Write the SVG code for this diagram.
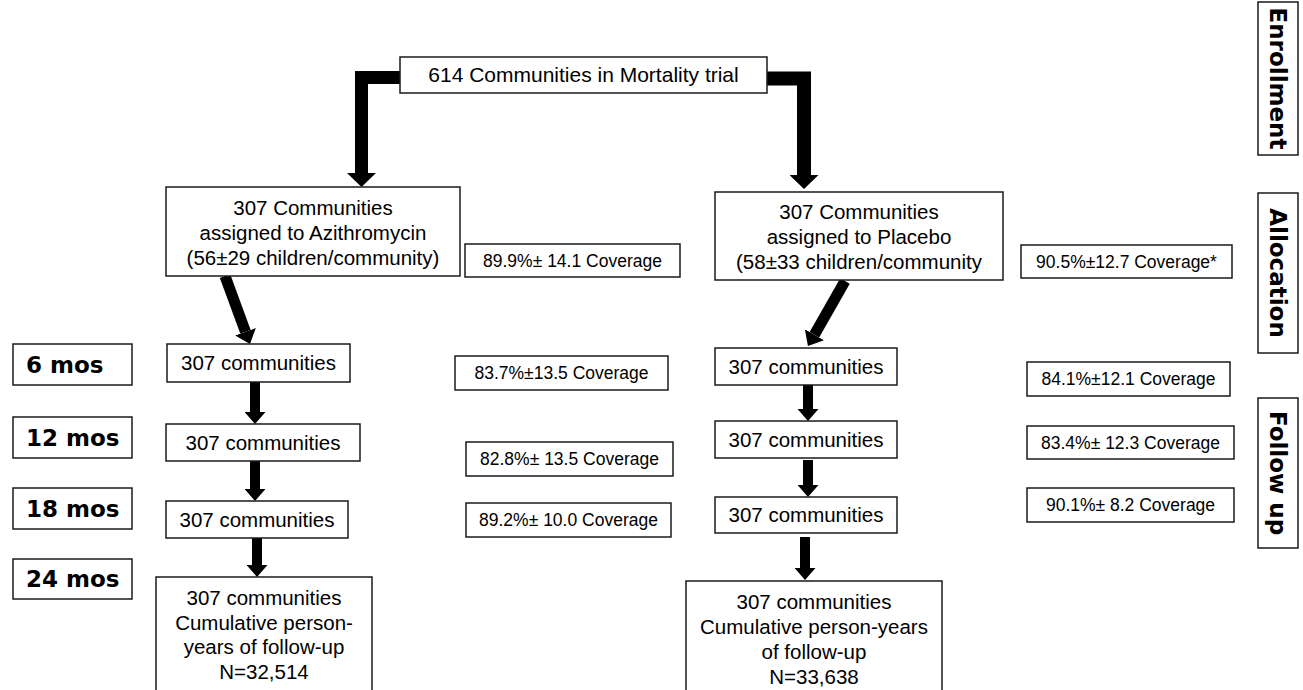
<svg xmlns="http://www.w3.org/2000/svg" width="1303" height="690" viewBox="0 0 1303 690">
<style>
.box{fill:#fff;stroke:#1a1a1a;stroke-width:1.5}
.t{font-family:"Liberation Sans",Arial,sans-serif;font-size:20.5px;fill:#000;text-anchor:middle}
.c{font-family:"Liberation Sans",Arial,sans-serif;font-size:17.5px;fill:#000;text-anchor:middle}
.lab{font-family:"DejaVu Sans",sans-serif;font-weight:bold;font-size:23px;fill:#000}
.side{font-family:"DejaVu Sans",sans-serif;font-weight:bold;font-size:23px;fill:#000;text-anchor:middle}
.conn{stroke:#000;fill:none}
</style>
<defs>
<marker id="big" markerUnits="userSpaceOnUse" markerWidth="14" markerHeight="29" refX="0" refY="14.5" orient="auto"><path d="M0,0 L14,14.5 L0,29 z" fill="#000"/></marker>
<marker id="med" markerUnits="userSpaceOnUse" markerWidth="13" markerHeight="22" refX="0" refY="11" orient="auto"><path d="M0,0 L13,11 L0,22 z" fill="#000"/></marker>
<marker id="sm" markerUnits="userSpaceOnUse" markerWidth="12" markerHeight="21" refX="0" refY="10.5" orient="auto"><path d="M0,0 L12,10.5 L0,21 z" fill="#000"/></marker>
</defs>
<rect width="1303" height="690" fill="#fff"/>
<g id="connectors" class="conn">
<polyline points="400,77.5 361.5,77.5 361.5,173" stroke-width="13" marker-end="url(#big)"/>
<polyline points="767,78.5 804,78.5 804,175" stroke-width="14" marker-end="url(#big)"/>
<line x1="225" y1="276" x2="245.5" y2="331.8" stroke-width="11" marker-end="url(#med)"/>
<line x1="845" y1="281" x2="814.4" y2="334.7" stroke-width="11" marker-end="url(#med)"/>
<line x1="255" y1="382" x2="255" y2="412" stroke-width="10" marker-end="url(#sm)"/>
<line x1="255" y1="461" x2="255" y2="489" stroke-width="10" marker-end="url(#sm)"/>
<line x1="257" y1="538" x2="257" y2="565" stroke-width="10" marker-end="url(#sm)"/>
<line x1="808" y1="385" x2="808" y2="409" stroke-width="10" marker-end="url(#sm)"/>
<line x1="808" y1="460" x2="808" y2="485" stroke-width="10" marker-end="url(#sm)"/>
<line x1="805" y1="537" x2="805" y2="568" stroke-width="10" marker-end="url(#sm)"/>
</g>
<g id="enroll-box"><rect class="box" x="400" y="57" width="367" height="36"/><text class="t" x="583.5" y="82" style="font-size:21px">614 Communities in Mortality trial</text></g>
<g id="azi-alloc"><rect class="box" x="166" y="187" width="294" height="89"/><text class="t" x="313" y="215">307 Communities</text><text class="t" x="313" y="240">assigned to Azithromycin</text><text class="t" x="313" y="265">(56±29 children/community)</text></g>
<g id="azi-cov0"><rect class="box" x="465" y="244" width="215" height="33"/><text class="c" x="572.5" y="266.5">89.9%± 14.1 Coverage</text></g>
<g id="pla-alloc"><rect class="box" x="715" y="192" width="288" height="88"/><text class="t" x="859" y="219">307 Communities</text><text class="t" x="859" y="244">assigned to Placebo</text><text class="t" x="859" y="269">(58±33 children/community</text></g>
<g id="pla-cov0"><rect class="box" x="1021" y="245" width="211" height="33"/><text class="c" x="1126.5" y="267.5">90.5%±12.7 Coverage*</text></g>
<g id="lab6"><rect class="box" x="13" y="344" width="119" height="41"/><text class="lab" x="26" y="372.5">6 mos</text></g>
<g id="lab12"><rect class="box" x="13" y="417" width="119" height="41"/><text class="lab" x="26" y="445.5">12 mos</text></g>
<g id="lab18"><rect class="box" x="13" y="488" width="119" height="41"/><text class="lab" x="26" y="516.5">18 mos</text></g>
<g id="lab24"><rect class="box" x="13" y="559" width="119" height="40"/><text class="lab" x="26" y="587">24 mos</text></g>
<g id="azi6"><rect class="box" x="167" y="344" width="183" height="38"/><text class="t" x="258.5" y="370">307 communities</text></g>
<g id="azi12"><rect class="box" x="166" y="424" width="194" height="37"/><text class="t" x="263" y="449.5">307 communities</text></g>
<g id="azi18"><rect class="box" x="166" y="501" width="182" height="37"/><text class="t" x="257" y="526.5">307 communities</text></g>
<g id="azi24"><rect class="box" x="156" y="577" width="216" height="116"/><text class="t" x="264" y="605">307 communities</text><text class="t" x="264" y="629.5">Cumulative person-</text><text class="t" x="264" y="654">years of follow-up</text><text class="t" x="264" y="678.5">N=32,514</text></g>
<g id="azi-cov6"><rect class="box" x="455" y="356" width="213" height="34"/><text class="c" x="561.5" y="379">83.7%±13.5 Coverage</text></g>
<g id="azi-cov12"><rect class="box" x="466" y="442" width="207" height="34"/><text class="c" x="569.5" y="465">82.8%± 13.5 Coverage</text></g>
<g id="azi-cov18"><rect class="box" x="466" y="503" width="205" height="34"/><text class="c" x="568.5" y="526">89.2%± 10.0 Coverage</text></g>
<g id="pla6"><rect class="box" x="715" y="348" width="182" height="37"/><text class="t" x="806" y="373.5">307 communities</text></g>
<g id="pla12"><rect class="box" x="715" y="421" width="182" height="37"/><text class="t" x="806" y="446.5">307 communities</text></g>
<g id="pla18"><rect class="box" x="715" y="497" width="182" height="36"/><text class="t" x="806" y="522">307 communities</text></g>
<g id="pla24"><rect class="box" x="686" y="581" width="256" height="112"/><text class="t" x="814" y="609">307 communities</text><text class="t" x="814" y="634">Cumulative person-years</text><text class="t" x="814" y="659">of follow-up</text><text class="t" x="814" y="684">N=33,638</text></g>
<g id="pla-cov6"><rect class="box" x="1027" y="362" width="203" height="34"/><text class="c" x="1128.5" y="385">84.1%±12.1 Coverage</text></g>
<g id="pla-cov12"><rect class="box" x="1027" y="426" width="207" height="33"/><text class="c" x="1130.5" y="448.5">83.4%± 12.3 Coverage</text></g>
<g id="pla-cov18"><rect class="box" x="1027" y="488" width="207" height="34"/><text class="c" x="1130.5" y="511">90.1%± 8.2 Coverage</text></g>
<g id="side-enroll"><rect class="box" x="1258" y="2" width="40" height="153"/><text class="side" transform="translate(1278,78.5) rotate(90)" x="0" y="8">Enrollment</text></g>
<g id="side-alloc"><rect class="box" x="1258" y="193" width="40" height="160"/><text class="side" transform="translate(1278,273) rotate(90)" x="0" y="8">Allocation</text></g>
<g id="side-follow"><rect class="box" x="1258" y="398" width="40" height="150"/><text class="side" transform="translate(1278,473) rotate(90)" x="0" y="8">Follow up</text></g>
</svg>
